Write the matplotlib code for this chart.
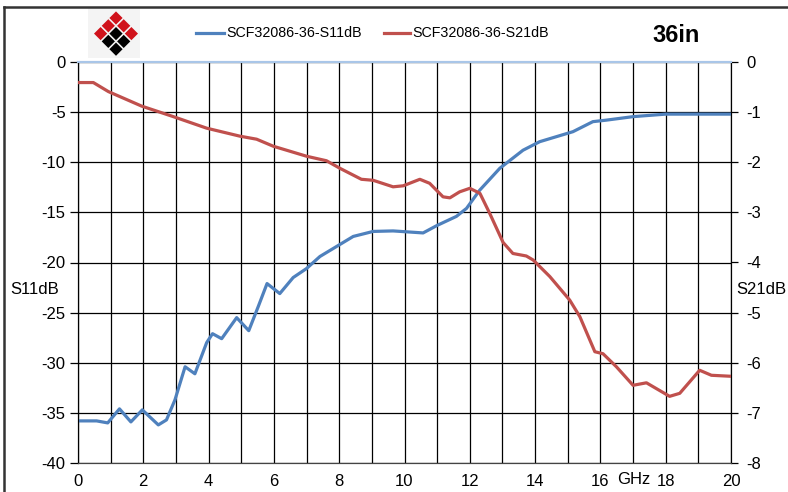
import numpy as np
import matplotlib
matplotlib.use("Agg")
import matplotlib.pyplot as plt
from matplotlib.patches import Polygon, Rectangle
from matplotlib.lines import Line2D

plt.rcParams['font.family'] = ['Liberation Sans', 'DejaVu Sans']

# S11 (left axis, dB)
s11_freq = [0, 0.57, 0.91, 1.27, 1.62, 1.97, 2.46, 2.71, 2.97, 3.28, 3.58, 3.94, 4.12, 4.40,
            4.86, 5.23, 5.52, 5.79, 6.18, 6.59, 7.0, 7.41, 7.92, 8.43, 9.04, 9.65, 10.57,
            11.0, 11.59, 11.9, 12.3, 12.92, 13.63, 14.14, 15.16, 15.77, 16.18, 17.0, 18.0,
            19.0, 20.0]
s11_db = [-35.8, -35.8, -36.0, -34.6, -35.9, -34.7, -36.2, -35.7, -33.7, -30.4, -31.1, -28.0,
          -27.1, -27.6, -25.5, -26.8, -24.4, -22.1, -23.1, -21.5, -20.6, -19.4, -18.4, -17.4,
          -16.9, -16.85, -17.05, -16.3, -15.4, -14.6, -12.8, -10.6, -8.8, -7.95, -6.95, -5.95,
          -5.8, -5.45, -5.2, -5.2, -5.2]

# S21 (right axis, dB)
s21_freq = [0, 0.47, 0.93, 1.95, 2.92, 3.94, 4.96, 5.47, 5.98, 7.0, 7.61, 8.02, 8.68, 9.04,
            9.65, 9.96, 10.47, 10.77, 11.18, 11.39, 11.69, 12.0, 12.31, 12.61, 13.02, 13.32,
            13.73, 13.94, 14.45, 15.06, 15.37, 15.83, 16.08, 16.49, 17.0, 17.41, 18.12, 18.43,
            19.04, 19.4, 20.0]
s21_db = [-0.41, -0.41, -0.59, -0.88, -1.09, -1.32, -1.48, -1.54, -1.68, -1.88, -1.97, -2.12,
          -2.34, -2.36, -2.49, -2.47, -2.34, -2.42, -2.69, -2.71, -2.59, -2.52, -2.62, -3.02,
          -3.6, -3.82, -3.87, -3.95, -4.28, -4.75, -5.08, -5.78, -5.82, -6.08, -6.45, -6.40,
          -6.67, -6.61, -6.15, -6.25, -6.27]

x_ticks = [0, 2, 4, 6, 8, 10, 12, 14, 16, 18, 20]
left_ticks = [0, -5, -10, -15, -20, -25, -30, -35, -40]
right_ticks = [0, -1, -2, -3, -4, -5, -6, -7, -8]

blue = '#4F81BD'
red = '#C0504D'

W, H = 788, 492
fig = plt.figure(figsize=(W / 100, H / 100), dpi=100)


def px(x, y):
    # pixel -> figure fraction
    return (x / W, 1 - y / H)


ax = fig.add_axes([78 / W, 1 - 463 / H, (731 - 78) / W, (463 - 62) / H])
ax2 = ax.twinx()

ax.plot(s11_freq, s11_db, color=blue, lw=2.3, solid_joinstyle='round', zorder=3)
ax2.plot(s21_freq, s21_db, color=red, lw=2.3, solid_joinstyle='round', zorder=3)

ax.set_xlim(0, 20)
ax.set_ylim(-40, 0)
ax2.set_ylim(-8, 0)

# grid
ax.set_xticks(np.arange(0, 21, 1), minor=True)
ax.set_xticks(x_ticks)
ax.set_yticks(left_ticks)
ax2.set_yticks(right_ticks)
ax.grid(True, which='both', axis='x', color='black', lw=0.9)
ax.grid(True, which='major', axis='y', color='black', lw=0.9)
ax.set_axisbelow(True)

for a in (ax, ax2):
    a.spines['top'].set_color('#A9C6E8')
    a.spines['top'].set_linewidth(1.5)
    a.spines['left'].set_color('black')
    a.spines['right'].set_color('black')
    a.spines['bottom'].set_color('#444444')

ax.tick_params(axis='x', which='both', length=0, pad=8, labelsize=12)
ax.tick_params(axis='y', length=6, width=0.9, pad=3, labelsize=12, direction='out')
ax2.tick_params(axis='y', length=5, width=0.9, pad=6, labelsize=12, direction='out')
ax.set_yticklabels([str(v) for v in left_ticks])
ax2.set_yticklabels([str(v) for v in right_ticks])

# axis labels
fig.text(*px(35, 289), 'S11dB', ha='center', va='center', fontsize=12)
fig.text(*px(761, 289), 'S21dB', ha='center', va='center', fontsize=12)
fig.text(*px(634, 480), 'GHz', ha='center', va='center', fontsize=12)

# legend
fig.add_artist(Line2D([196 / W, 224 / W], [1 - 33 / H] * 2, color=blue, lw=2.3))
fig.text(*px(226, 33), 'SCF32086-36-S11dB', ha='left', va='center', fontsize=10.3)
fig.add_artist(Line2D([384 / W, 410 / W], [1 - 33 / H] * 2, color=red, lw=2.3))
fig.text(*px(412, 33), 'SCF32086-36-S21dB', ha='left', va='center', fontsize=10.3)
fig.text(*px(676, 36), '36in', ha='center', va='center', fontsize=17, fontweight='bold')

# logo
fig.add_artist(Rectangle(px(88, 58), 52 / W, 51 / H, color='#F4F4F4', lw=0))
for i in range(3):
    for j in range(3):
        cx = 116 + (i - j) * 7.7
        cy = 18 + (i + j) * 7.8
        r = 6.6
        pts = [px(cx, cy - r), px(cx + r, cy), px(cx, cy + r), px(cx - r, cy)]
        c = '#D0121B' if (i == 0 or j == 0) else 'black'
        fig.add_artist(Polygon(pts, closed=True, color=c, lw=0))

# outer frame
fig.add_artist(Line2D([4 / W, 1], [1 - 7 / H] * 2, color='#333333', lw=1.8))
fig.add_artist(Line2D([4 / W, 4 / W], [0, 1 - 7 / H], color='#333333', lw=1.8))

fig.savefig('out.png', dpi=100)
